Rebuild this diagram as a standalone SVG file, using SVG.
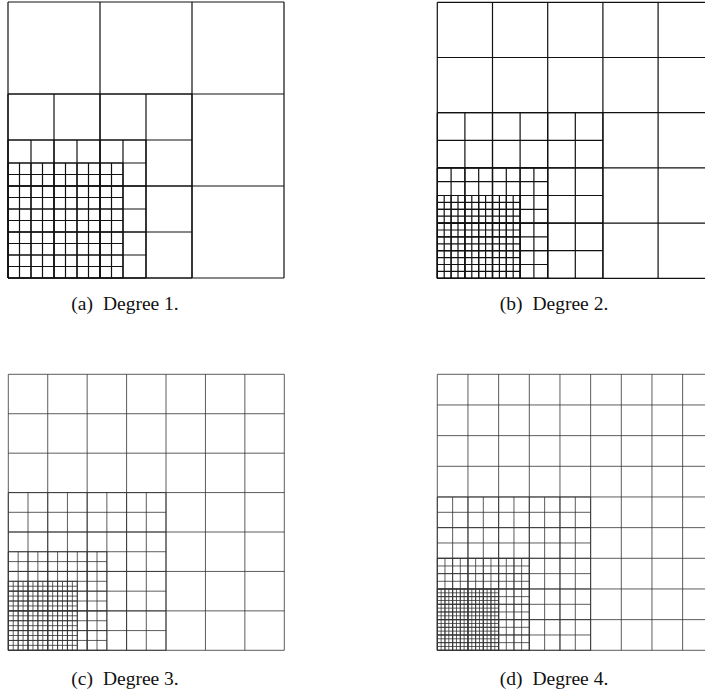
<svg xmlns="http://www.w3.org/2000/svg" width="705" height="697" viewBox="0 0 705 697">
<style>
.g1{fill:none;stroke:#111;stroke-width:1.2}
.g2{fill:none;stroke:#333;stroke-width:0.8}
.cap{font-family:"Liberation Serif","DejaVu Serif",serif;font-size:19.5px;fill:#111;text-anchor:middle}
</style>
<rect width="705" height="697" fill="#fff"/>
<g id="panel-a">
<path class="g1" d="M8 2v276m92-276v276m92-276v276m92-276v276M8 2h276m-276 92h276m-276 92h276m-276 92h276"/>
<path class="g1" d="M8 94v184m46-184v184m46-184v184m46-184v184m46-184v184M8 94h184m-184 46h184m-184 46h184m-184 46h184m-184 46h184"/>
<path class="g1" d="M8 140v138m23-138v138m23-138v138m23-138v138m23-138v138m23-138v138m23-138v138M8 140h138m-138 23h138m-138 23h138m-138 23h138m-138 23h138m-138 23h138m-138 23h138"/>
<path class="g1" d="M8 163v115m11.5-115v115m11.5-115v115m11.5-115v115m11.5-115v115m11.5-115v115m11.5-115v115m11.5-115v115m11.5-115v115m11.5-115v115m11.5-115v115M8 163h115m-115 11.5h115m-115 11.5h115m-115 11.5h115m-115 11.5h115m-115 11.5h115m-115 11.5h115m-115 11.5h115m-115 11.5h115m-115 11.5h115m-115 11.5h115"/>
<text class="cap" x="125" y="310">(a)<tspan dx="10">Degree 1.</tspan></text>
</g>
<g id="panel-b">
<path class="g1" d="M437.3 2.3v276m55.2-276v276m55.2-276v276m55.2-276v276m55.2-276v276m55.2-276v276M437.3 2.3h276m-276 55.2h276m-276 55.2h276m-276 55.2h276m-276 55.2h276m-276 55.2h276"/>
<path class="g1" d="M437.3 112.7v165.6m27.6-165.6v165.6m27.6-165.6v165.6m27.6-165.6v165.6m27.6-165.6v165.6m27.6-165.6v165.6m27.6-165.6v165.6M437.3 112.7h165.6m-165.6 27.6h165.6m-165.6 27.6h165.6m-165.6 27.6h165.6m-165.6 27.6h165.6m-165.6 27.6h165.6m-165.6 27.6h165.6"/>
<path class="g1" d="M437.3 167.9v110.4m13.8-110.4v110.4m13.8-110.4v110.4m13.8-110.4v110.4m13.8-110.4v110.4m13.8-110.4v110.4m13.8-110.4v110.4m13.8-110.4v110.4m13.8-110.4v110.4M437.3 167.9h110.4m-110.4 13.8h110.4m-110.4 13.8h110.4m-110.4 13.8h110.4m-110.4 13.8h110.4m-110.4 13.8h110.4m-110.4 13.8h110.4m-110.4 13.8h110.4m-110.4 13.8h110.4"/>
<path class="g1" d="M437.3 195.5v82.8m6.9-82.8v82.8m6.9-82.8v82.8m6.9-82.8v82.8m6.9-82.8v82.8m6.9-82.8v82.8m6.9-82.8v82.8m6.9-82.8v82.8m6.9-82.8v82.8m6.9-82.8v82.8m6.9-82.8v82.8m6.9-82.8v82.8m6.9-82.8v82.8M437.3 195.5h82.8m-82.8 6.9h82.8m-82.8 6.9h82.8m-82.8 6.9h82.8m-82.8 6.9h82.8m-82.8 6.9h82.8m-82.8 6.9h82.8m-82.8 6.9h82.8m-82.8 6.9h82.8m-82.8 6.9h82.8m-82.8 6.9h82.8m-82.8 6.9h82.8m-82.8 6.9h82.8"/>
<text class="cap" x="554" y="310">(b)<tspan dx="10">Degree 2.</tspan></text>
</g>
<g id="panel-c">
<path class="g2" d="M8.3 374.3v276m39.4286-276v276m39.4286-276v276m39.4286-276v276m39.4286-276v276m39.4286-276v276m39.4286-276v276m39.4286-276v276M8.3 374.3h276m-276 39.4286h276m-276 39.4286h276m-276 39.4286h276m-276 39.4286h276m-276 39.4286h276m-276 39.4286h276m-276 39.4286h276"/>
<path class="g2" d="M8.3 492.59v157.71m19.7143-157.71v157.71m19.7143-157.71v157.71m19.7143-157.71v157.71m19.7143-157.71v157.71m19.7143-157.71v157.71m19.7143-157.71v157.71m19.7143-157.71v157.71m19.7143-157.71v157.71M8.3 492.59h157.71m-157.71 19.7143h157.71m-157.71 19.7143h157.71m-157.71 19.7143h157.71m-157.71 19.7143h157.71m-157.71 19.7143h157.71m-157.71 19.7143h157.71m-157.71 19.7143h157.71m-157.71 19.7143h157.71"/>
<path class="g2" d="M8.3 551.73v98.57m9.8571-98.57v98.57m9.8571-98.57v98.57m9.8571-98.57v98.57m9.8571-98.57v98.57m9.8571-98.57v98.57m9.8571-98.57v98.57m9.8571-98.57v98.57m9.8571-98.57v98.57m9.8571-98.57v98.57m9.8571-98.57v98.57M8.3 551.73h98.57m-98.57 9.8571h98.57m-98.57 9.8571h98.57m-98.57 9.8571h98.57m-98.57 9.8571h98.57m-98.57 9.8571h98.57m-98.57 9.8571h98.57m-98.57 9.8571h98.57m-98.57 9.8571h98.57m-98.57 9.8571h98.57m-98.57 9.8571h98.57"/>
<path class="g2" d="M8.3 581.3v69m4.9286-69v69m4.9286-69v69m4.9286-69v69m4.9286-69v69m4.9286-69v69m4.9286-69v69m4.9286-69v69m4.9286-69v69m4.9286-69v69m4.9286-69v69m4.9286-69v69m4.9286-69v69m4.9286-69v69m4.9286-69v69M8.3 581.3h69m-69 4.9286h69m-69 4.9286h69m-69 4.9286h69m-69 4.9286h69m-69 4.9286h69m-69 4.9286h69m-69 4.9286h69m-69 4.9286h69m-69 4.9286h69m-69 4.9286h69m-69 4.9286h69m-69 4.9286h69m-69 4.9286h69m-69 4.9286h69"/>
<text class="cap" x="125" y="685">(c)<tspan dx="10">Degree 3.</tspan></text>
</g>
<g id="panel-d">
<path class="g2" d="M437.3 374.3v276m30.6667-276v276m30.6667-276v276m30.6667-276v276m30.6667-276v276m30.6667-276v276m30.6667-276v276m30.6667-276v276m30.6667-276v276m30.6667-276v276M437.3 374.3h276m-276 30.6667h276m-276 30.6667h276m-276 30.6667h276m-276 30.6667h276m-276 30.6667h276m-276 30.6667h276m-276 30.6667h276m-276 30.6667h276m-276 30.6667h276"/>
<path class="g2" d="M437.3 496.97v153.33m15.3333-153.33v153.33m15.3333-153.33v153.33m15.3333-153.33v153.33m15.3333-153.33v153.33m15.3333-153.33v153.33m15.3333-153.33v153.33m15.3333-153.33v153.33m15.3333-153.33v153.33m15.3333-153.33v153.33m15.3333-153.33v153.33M437.3 496.97h153.33m-153.33 15.3333h153.33m-153.33 15.3333h153.33m-153.33 15.3333h153.33m-153.33 15.3333h153.33m-153.33 15.3333h153.33m-153.33 15.3333h153.33m-153.33 15.3333h153.33m-153.33 15.3333h153.33m-153.33 15.3333h153.33m-153.33 15.3333h153.33"/>
<path class="g2" d="M437.3 558.3v92m7.6667-92v92m7.6667-92v92m7.6667-92v92m7.6667-92v92m7.6667-92v92m7.6667-92v92m7.6667-92v92m7.6667-92v92m7.6667-92v92m7.6667-92v92m7.6667-92v92m7.6667-92v92M437.3 558.3h92m-92 7.6667h92m-92 7.6667h92m-92 7.6667h92m-92 7.6667h92m-92 7.6667h92m-92 7.6667h92m-92 7.6667h92m-92 7.6667h92m-92 7.6667h92m-92 7.6667h92m-92 7.6667h92m-92 7.6667h92"/>
<path class="g2" d="M437.3 588.97v61.33m3.8333-61.33v61.33m3.8333-61.33v61.33m3.8333-61.33v61.33m3.8333-61.33v61.33m3.8333-61.33v61.33m3.8333-61.33v61.33m3.8333-61.33v61.33m3.8333-61.33v61.33m3.8333-61.33v61.33m3.8333-61.33v61.33m3.8333-61.33v61.33m3.8333-61.33v61.33m3.8333-61.33v61.33m3.8333-61.33v61.33m3.8333-61.33v61.33m3.8333-61.33v61.33M437.3 588.97h61.33m-61.33 3.8333h61.33m-61.33 3.8333h61.33m-61.33 3.8333h61.33m-61.33 3.8333h61.33m-61.33 3.8333h61.33m-61.33 3.8333h61.33m-61.33 3.8333h61.33m-61.33 3.8333h61.33m-61.33 3.8333h61.33m-61.33 3.8333h61.33m-61.33 3.8333h61.33m-61.33 3.8333h61.33m-61.33 3.8333h61.33m-61.33 3.8333h61.33m-61.33 3.8333h61.33m-61.33 3.8333h61.33"/>
<text class="cap" x="554" y="685">(d)<tspan dx="10">Degree 4.</tspan></text>
</g>
</svg>
